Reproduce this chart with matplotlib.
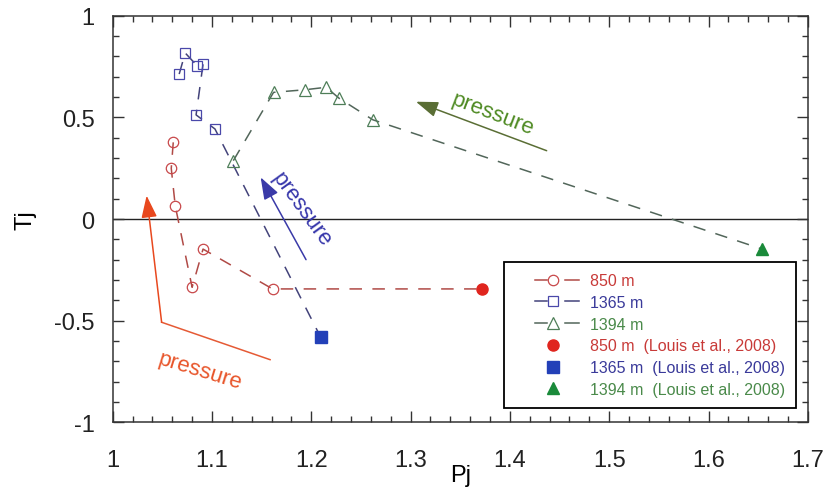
import matplotlib
matplotlib.use("Agg")
import matplotlib.pyplot as plt
from matplotlib.lines import Line2D
from matplotlib.legend_handler import HandlerBase
from matplotlib.ticker import MultipleLocator

plt.rcParams['font.family'] = ['Liberation Sans', 'DejaVu Sans']
plt.rcParams['lines.scale_dashes'] = False
NARROW = ['Liberation Sans Narrow', 'Liberation Sans', 'DejaVu Sans']

# ---- data ----
pj_850 = [1.061, 1.059, 1.063, 1.080, 1.091, 1.161]
tj_850 = [0.377, 0.249, 0.065, -0.336, -0.148, -0.344]
pj_1365 = [1.067, 1.073, 1.085, 1.091, 1.084, 1.103]
tj_1365 = [0.713, 0.817, 0.754, 0.762, 0.512, 0.443]
pj_1394 = [1.1215, 1.162, 1.194, 1.215, 1.228, 1.262]
tj_1394 = [0.287, 0.623, 0.636, 0.648, 0.594, 0.488]
louis_pj = [1.372, 1.2095, 1.654]
louis_tj = [-0.344, -0.582, -0.148]
labels_open = ["850 m", "1365 m", "1394 m"]
labels_louis = ["850 m  (Louis et al., 2008)", "1365 m  (Louis et al., 2008)", "1394 m  (Louis et al., 2008)"]
x_ticks = [1, 1.1, 1.2, 1.3, 1.4, 1.5, 1.6, 1.7]
x_tick_labels = ["1", "1.1", "1.2", "1.3", "1.4", "1.5", "1.6", "1.7"]
y_ticks = [-1, -0.5, 0, 0.5, 1]
y_tick_labels = ["-1", "-0.5", "0", "0.5", "1"]

open_pj = [pj_850, pj_1365, pj_1394]
open_tj = [tj_850, tj_1365, tj_1394]

line_colors = ["#b04a46", "#43437a", "#52665a"]
open_colors = ["#c8484a", "#4a48aa", "#4e7e58"]
fill_colors = ["#e0251e", "#2340b8", "#1a8a3a"]
text_colors = ["#c83a38", "#3a3a9a", "#4a8a4a"]
open_markers = ["o", "s", "^"]
fill_markers = ["o", "s", "^"]
open_ms = [7.5, 7.5, 8]
fill_ms = [8, 8.5, 8.5]


class DashMarkHandler(HandlerBase):
    """legend key: short line, marker, gap, short line (like the original)."""
    def __init__(self, with_lines=True, **kw):
        super().__init__(**kw)
        self.with_lines = with_lines

    def create_artists(self, legend, orig_handle, xdescent, ydescent, width,
                       height, fontsize, trans):
        y = height / 2 - ydescent
        x0 = -xdescent
        arts = []
        if self.with_lines:
            for a, b in [(0.30, 0.50), (0.78, 1.0)]:
                ln = Line2D([x0 + a * width, x0 + b * width], [y, y],
                            color=orig_handle.get_color(), lw=1.1)
                ln.set_transform(trans)
                arts.append(ln)
        mk = Line2D([x0 + 0.585 * width], [y], linestyle="none",
                    marker=orig_handle.get_marker(),
                    ms=orig_handle.get_markersize(),
                    mfc=orig_handle.get_markerfacecolor(),
                    mec=orig_handle.get_markeredgecolor(),
                    mew=orig_handle.get_markeredgewidth())
        mk.set_transform(trans)
        arts.append(mk)
        return arts


fig = plt.figure(figsize=(8.26, 4.89), dpi=100)
ax = fig.add_axes([0.1364, 0.1344, 0.978 - 0.1364, 0.9658 - 0.1344])

ax.axhline(0, color="#222222", lw=1.0, zorder=1)

for i in range(3):
    xs = open_pj[i] + [louis_pj[i]]
    ys = open_tj[i] + [louis_tj[i]]
    ax.plot(xs, ys, color=line_colors[i], lw=1.1, dashes=(9, 7.5), zorder=2)
    ax.plot(open_pj[i], open_tj[i], linestyle="none", marker=open_markers[i],
            ms=open_ms[i], mfc="none", mec=open_colors[i], mew=0.9, zorder=3)
    ax.plot([louis_pj[i]], [louis_tj[i]], linestyle="none", marker=fill_markers[i],
            ms=fill_ms[i], color=fill_colors[i], zorder=4)

# ---- pressure arrows ----
head = "-|>,head_length=0.9,head_width=0.32"
red_path_x = [1.1585, 1.0493]
red_path_y = [-0.692, -0.508]
red_tip = (1.0342, 0.115)
ax.plot(red_path_x, red_path_y, color="#e55a35", lw=1.1)
ax.annotate("", xy=red_tip, xytext=(red_path_x[1], red_path_y[1]),
            arrowprops=dict(arrowstyle=head, color="#e8481e", lw=1.1,
                            shrinkA=0, shrinkB=0, mutation_scale=15))
ax.text(1.088, -0.746, "pressure", color="#e8552a", fontsize=16, rotation=-17,
        ha="center", va="center", rotation_mode="anchor")

blue_tail = (1.1947, -0.200)
blue_tip = (1.149, 0.205)
ax.annotate("", xy=blue_tip, xytext=blue_tail,
            arrowprops=dict(arrowstyle=head, color="#3a3aa8", lw=1.1,
                            shrinkA=0, shrinkB=0, mutation_scale=15))
ax.text(1.190, 0.049, "pressure", color="#3535aa", fontsize=16, rotation=-54,
        ha="center", va="center", rotation_mode="anchor")

green_tail = (1.437, 0.336)
green_tip = (1.3054, 0.577)
ax.annotate("", xy=green_tip, xytext=green_tail,
            arrowprops=dict(arrowstyle=head, color="#5a6e35", lw=1.1,
                            shrinkA=0, shrinkB=0, mutation_scale=15))
ax.text(1.383, 0.516, "pressure", color="#4e8a22", fontsize=16, rotation=-21,
        ha="center", va="center", rotation_mode="anchor")

# ---- axes ----
ax.set_xlim(1, 1.7)
ax.set_ylim(-1, 1)
ax.set_xticks(x_ticks)
ax.set_xticklabels(x_tick_labels, family=NARROW)
ax.set_yticks(y_ticks)
ax.set_yticklabels(y_tick_labels, family=NARROW)
ax.xaxis.set_minor_locator(MultipleLocator(0.02))
ax.yaxis.set_minor_locator(MultipleLocator(0.1))
ax.tick_params(which="both", direction="in", top=True, right=True, colors="#333333",
               labelcolor="#222222", labelsize=17)
ax.tick_params(which="major", length=8, width=1.0)
ax.tick_params(which="minor", length=4, width=1.0)
ax.tick_params(axis="x", which="major", pad=19)
ax.tick_params(axis="y", which="major", pad=13)
for s in ax.spines.values():
    s.set_linewidth(1.1)
    s.set_color("#333333")
ax.set_xlabel("Pj", fontsize=17, family=NARROW, labelpad=-5)
ax.set_ylabel("Tj", fontsize=17, family=NARROW)
ax.yaxis.set_label_coords(-0.109, 0.5)

# ---- legend ----
handles = []
for i in range(3):
    handles.append(Line2D([0], [0], color=line_colors[i], lw=1.1,
                          marker=open_markers[i], ms=open_ms[i], mfc="none",
                          mec=open_colors[i], mew=0.9))
fill_handles = []
for i in range(3):
    fill_handles.append(Line2D([0], [0], linestyle="none", marker=fill_markers[i],
                               ms=fill_ms[i], color=fill_colors[i],
                               mfc=fill_colors[i], mec=fill_colors[i]))
hmap = {h: DashMarkHandler(True) for h in handles}
hmap.update({h: DashMarkHandler(False) for h in fill_handles})
leg = ax.legend(handles + fill_handles, labels_open + labels_louis,
                handler_map=hmap, loc="lower right",
                bbox_to_anchor=(0.983, 0.035), borderaxespad=0, fontsize=11.5,
                frameon=True, fancybox=False, edgecolor="black", framealpha=1,
                handlelength=4.0, handletextpad=0.65, labelspacing=0.42,
                borderpad=0.7, numpoints=1)
leg.get_frame().set_linewidth(1.3)
for t, c in zip(leg.get_texts(), text_colors + text_colors):
    t.set_color(c)

fig.savefig("out.png", dpi=100)
